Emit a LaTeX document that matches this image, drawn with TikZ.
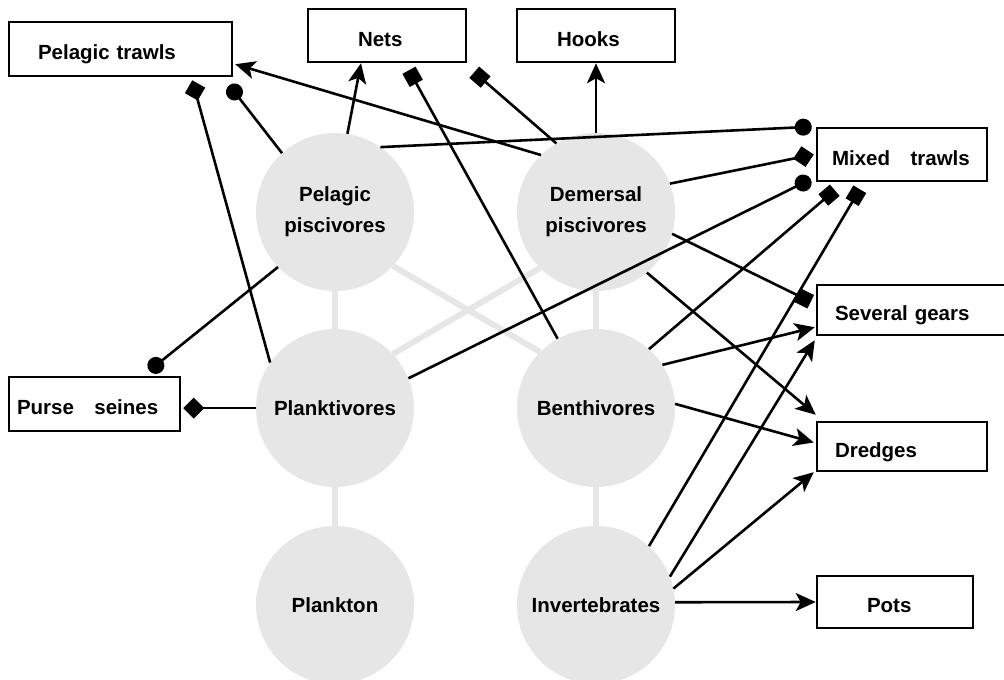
\documentclass[tikz,border=0pt]{standalone}
\usepackage{fontspec}
\setmainfont{Liberation Sans}
\usetikzlibrary{arrows.meta}
\definecolor{food}{HTML}{E6E6E6}

\begin{document}
\begin{tikzpicture}[x=1pt,y=-1pt]
\tikzset{
  species/.style={circle, fill=food, minimum size=158pt, inner sep=0pt, align=center,
    font=\fontsize{20.5}{31}\selectfont\bfseries},
  gear/.style={draw, line width=2.5pt, fill=white, inner ysep=0pt, align=left,
    text height=25pt, text depth=4pt, font=\fontsize{20.5}{24}\selectfont\bfseries},
  web/.style={draw=food, line width=6pt},
  link/.style={line width=2.6pt},
  hit/.style={link, -{Stealth[length=20pt,width=18pt,inset=5pt]}},
  roundend/.style={link, -{Circle[length=17pt]}},
  sq/.style={link, -{Square[length=15pt,width=15pt]}},
  dia/.style={link, -{Turned Square[length=21pt,width=21pt]}}
}
\useasboundingbox (0,0) rectangle (1004,680);
\node[species] (PP) at (335,212) {Pelagic\\piscivores};
\node[species] (DP) at (596,212) {Demersal\\piscivores};
\node[species] (PL) at (335,408) {Planktivores};
\node[species] (BE) at (596,408) {Benthivores};
\node[species] (PK) at (335,605) {Plankton};
\node[species] (IN) at (596,605) {Invertebrates};
\draw[web] (PP) -- (PL);
\draw[web] (DP) -- (BE);
\draw[web] (PL) -- (PK);
\draw[web] (BE) -- (IN);
\draw[web] (PP.-43) -- (BE.135);
\draw[web] (PL.43) -- (DP.-135);
\node[gear, text width=165pt, inner xsep=29pt, minimum height=54pt] (ptrawl) at (120.5,49) {Pelagic trawls};
\node[gear, text width=58pt, inner xsep=50pt, minimum height=53pt] (nets) at (387,35.5) {Nets};
\node[gear, text width=78pt, inner xsep=40pt, minimum height=53pt] (hooks) at (596,35.5) {Hooks};
\node[gear, text width=140pt, inner xsep=15pt, minimum height=53pt] (mixed) at (902,154.5) {Mixed~~~trawls};
\node[gear, text width=170pt, inner xsep=18pt, minimum height=50pt] (several) at (920,310) {Several gears};
\node[gear, text width=134pt, inner xsep=18pt, minimum height=49pt] (dredges) at (902,446.5) {Dredges};
\node[gear, text width=56pt, inner xsep=50pt, minimum height=52pt] (pots) at (895,602) {Pots};
\node[gear, text width=155pt, inner xsep=8pt, minimum height=54pt] (purse) at (94.5,404) {Purse~~~seines};
\draw[hit] (PP.81) -- ([xshift=-26pt]nets.south);
\draw[roundend] (PP.132) -- ([xshift=-4pt,yshift=-8pt]ptrawl.south east);
\draw[dia] (PL.145) -- ([xshift=-41pt,yshift=-3pt]ptrawl.south east);
\draw[dia] (PL.west) -- ([xshift=2pt]PL.west -| purse.east);
\draw[roundend] (PP.224) -- ([xshift=-32pt,yshift=5pt]purse.north east);
\draw[hit] (DP.134) -- ([xshift=2pt,yshift=13pt]ptrawl.south east);
\draw[hit] (DP.north) -- (hooks.south);
\draw[sq] (DP.120) -- ([xshift=7pt,yshift=-9pt]nets.south east);
\draw[sq] (BE.119) -- ([xshift=22pt,yshift=-7pt]nets.south);
\draw[roundend] (PP.55) -- ([xshift=-4pt]mixed.north west);
\draw[dia] (DP.21) -- ([xshift=-2pt]mixed.west);
\draw[roundend] (PL.22) -- ([xshift=-5pt,yshift=3pt]mixed.south west);
\draw[sq] (BE.48) -- ([xshift=19pt,yshift=-8pt]mixed.south west);
\draw[sq] (IN.48) -- ([xshift=44pt,yshift=-7pt]mixed.south west);
\draw[sq] (DP.-16) -- ([xshift=-5pt,yshift=-18pt]several.north west);
\draw[hit] (BE.33) -- ([xshift=-1pt,yshift=9pt]several.south west);
\draw[hit] (IN.21) -- ([xshift=-1pt,yshift=-4pt]several.south west);
\draw[hit] (DP.-50) -- ([yshift=6pt]dredges.north west);
\draw[hit] (BE.3) -- ([xshift=-2pt,yshift=4pt]dredges.west);
\draw[hit] (IN.12) -- ([xshift=-2pt]dredges.south west);
\draw[hit] (IN.2) -- (pots.west);
\end{tikzpicture}
\end{document}
